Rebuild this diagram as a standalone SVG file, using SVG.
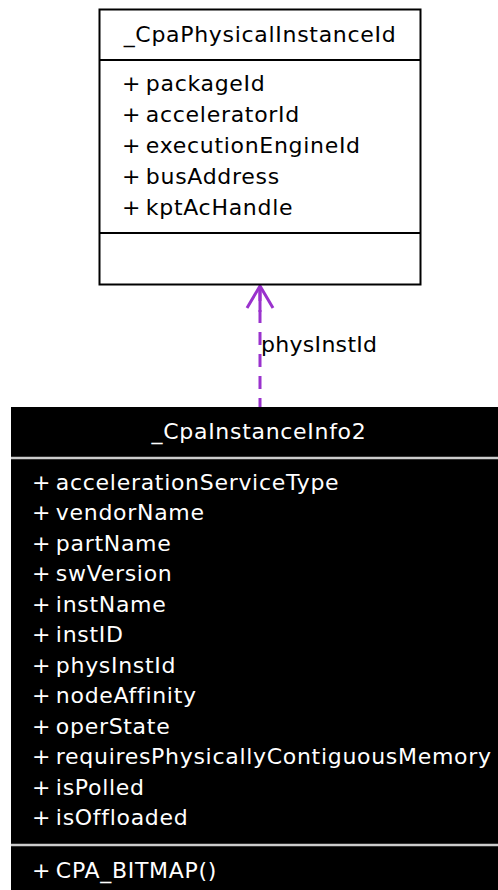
<svg xmlns="http://www.w3.org/2000/svg" width="498" height="890" viewBox="0 0 498 890">
<style>
text{font-family:"DejaVu Sans",sans-serif;font-size:22px;letter-spacing:0.7px;word-spacing:-3px}
.d{fill:#000}
.w{fill:#fff}
</style>
<rect width="498" height="890" fill="#fff"/>
<g id="connectors">
<line x1="260" y1="288" x2="260" y2="407" stroke="#9a32cd" stroke-width="3" stroke-dasharray="13,9"/>
<path d="M247,308 L260,286 L273,308" fill="none" stroke="#9a32cd" stroke-width="3"/>
<line x1="260" y1="287" x2="260" y2="312" stroke="#9a32cd" stroke-width="3"/>
<text x="261" y="352" class="d" style="letter-spacing:0.3px">physInstId</text>
</g>
<g id="node1">
<rect x="99.5" y="9.5" width="321" height="275" fill="#fff" stroke="#000" stroke-width="2"/>
<line x1="99" y1="60" x2="421" y2="60" stroke="#000" stroke-width="2"/>
<line x1="99" y1="233" x2="421" y2="233" stroke="#000" stroke-width="2"/>
<text x="260" y="42" text-anchor="middle" class="d">_CpaPhysicalInstanceId</text>
<text x="122" y="90.5" class="d">+ packageId</text>
<text x="122" y="121.5" class="d">+ acceleratorId</text>
<text x="122" y="152.5" class="d">+ executionEngineId</text>
<text x="122" y="183.5" class="d">+ busAddress</text>
<text x="122" y="214.5" class="d">+ kptAcHandle</text>
</g>
<g id="node2">
<rect x="11" y="407" width="495" height="490" fill="#000"/>
<line x1="11" y1="458" x2="498" y2="458" stroke="#ccc" stroke-width="2.5"/>
<line x1="11" y1="845" x2="498" y2="845" stroke="#ccc" stroke-width="2.5"/>
<text x="259" y="439" text-anchor="middle" class="w">_CpaInstanceInfo2</text>
<text x="32" y="489.5" class="w">+ accelerationServiceType</text>
<text x="32" y="520" class="w">+ vendorName</text>
<text x="32" y="550.5" class="w">+ partName</text>
<text x="32" y="581" class="w">+ swVersion</text>
<text x="32" y="611.5" class="w">+ instName</text>
<text x="32" y="642" class="w">+ instID</text>
<text x="32" y="672.5" class="w">+ physInstId</text>
<text x="32" y="703" class="w">+ nodeAffinity</text>
<text x="32" y="733.5" class="w">+ operState</text>
<text x="32" y="764" class="w">+ requiresPhysicallyContiguousMemory</text>
<text x="32" y="794.5" class="w">+ isPolled</text>
<text x="32" y="825" class="w">+ isOffloaded</text>
<text x="32" y="877.5" class="w">+ CPA_BITMAP()</text>
</g>
</svg>
